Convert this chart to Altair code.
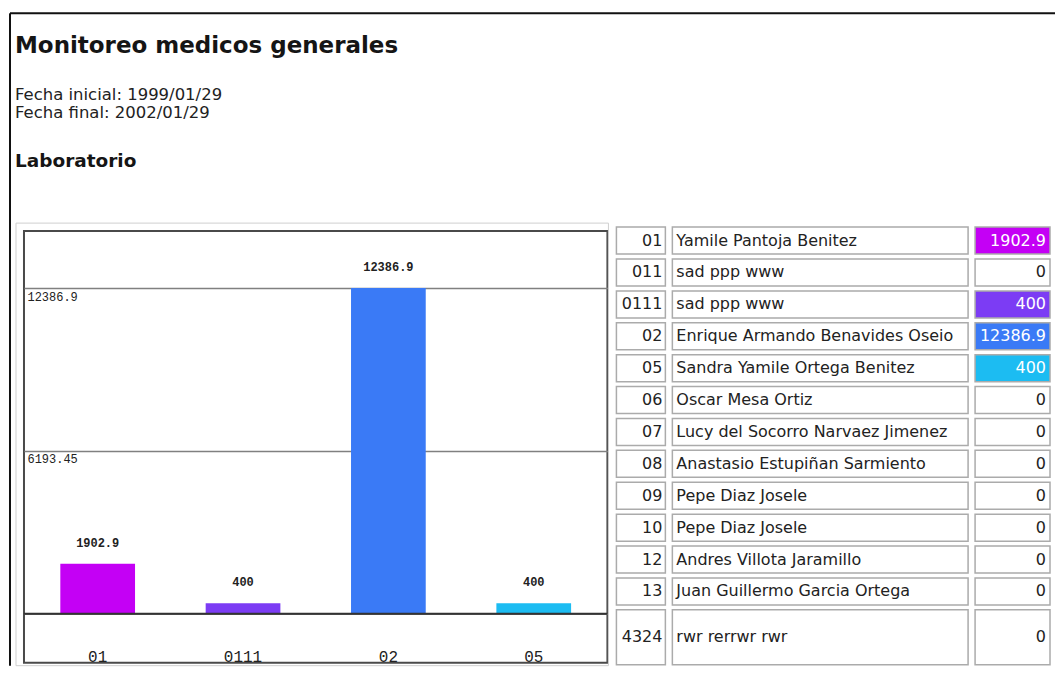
import altair as alt
import pandas as pd

# ---------------- data ----------------
title_text = "Monitoreo medicos generales"
date_lines = ["Fecha inicial: 1999/01/29", "Fecha final: 2002/01/29"]
section_text = "Laboratorio"

codes = ["01", "011", "0111", "02", "05", "06", "07", "08", "09", "10", "12", "13", "4324"]
names = [
    "Yamile Pantoja Benitez",
    "sad ppp www",
    "sad ppp www",
    "Enrique Armando Benavides Oseio",
    "Sandra Yamile Ortega Benitez",
    "Oscar Mesa Ortiz",
    "Lucy del Socorro Narvaez Jimenez",
    "Anastasio Estupiñan Sarmiento",
    "Pepe Diaz Josele",
    "Pepe Diaz Josele",
    "Andres Villota Jaramillo",
    "Juan Guillermo Garcia Ortega",
    "rwr rerrwr rwr",
]
values = [1902.9, 0, 400, 12386.9, 400, 0, 0, 0, 0, 0, 0, 0, 0]
row_weights = [1, 1, 1, 1, 1, 1, 1, 1, 1, 1, 1, 1, 1.874]

bar_codes = ["01", "0111", "02", "05"]
bar_colors = ["#c400f5", "#7c3cf4", "#3a7af6", "#1cbcf2"]
y_ticks = [0, 6193.45, 12386.9]


def fmt(v):
    return str(int(v)) if float(v).is_integer() else str(v)


# ---------------- tables ----------------
row_gap = 0.154
starts = []
acc = 0.0
for w in row_weights:
    starts.append(acc)
    acc += w
color_map = dict(zip(bar_codes, bar_colors))
tdf = pd.DataFrame({
    "code": codes,
    "name": names,
    "value": values,
    "label": [fmt(v) for v in values],
    "y0": starts,
    "y1": [s + w - row_gap for s, w in zip(starts, row_weights)],
})
tdf["ym"] = (tdf["y0"] + tdf["y1"]) / 2
tdf["vfill"] = [color_map.get(c, "#ffffff") if v > 0 else "#ffffff" for c, v in zip(codes, values)]
tdf["vtext"] = ["#ffffff" if v > 0 else "#222222" for v in values]

bar_df = tdf[tdf["value"] > 0].copy()

BW, BH = 584, 432

# ---------------- header (same x frame as the bar panel) ----------------
HH = 203
OVERLAP = 5
FX = -14  # outer frame line, relative to the plot box
hdr_base = alt.Chart(pd.DataFrame({"t": [title_text], "d": ["\n".join(date_lines)], "s": [section_text]}))
hdr = alt.layer(
    hdr_base.mark_rule(color="#111", strokeWidth=2).encode(x=alt.value(FX), x2=alt.value(1032), y=alt.value(0)),
    hdr_base.mark_rule(color="#111", strokeWidth=2).encode(x=alt.value(FX), y=alt.value(0), y2=alt.value(HH + OVERLAP)),
    hdr_base.mark_text(align="left", baseline="alphabetic", font="DejaVu Sans", fontWeight="bold",
                       fontSize=23, color="#151515").encode(x=alt.value(FX + 5), y=alt.value(40), text="t:N"),
    hdr_base.mark_text(align="left", baseline="alphabetic", font="DejaVu Sans", fontSize=16.5,
                       lineBreak="\n", lineHeight=17.5, color="#222").encode(x=alt.value(FX + 5), y=alt.value(87), text="d:N"),
    hdr_base.mark_text(align="left", baseline="alphabetic", font="DejaVu Sans", fontWeight="bold",
                       fontSize=18.5, color="#151515").encode(x=alt.value(FX + 5), y=alt.value(154), text="s:N"),
).properties(width=BW, height=HH)

# ---------------- bar chart ----------------
ydom = [-1862, 14553]
xenc = alt.X("code:N", sort=bar_codes,
             scale=alt.Scale(domain=bar_codes, paddingInner=0.486, paddingOuter=0.25),
             axis=alt.Axis(title=None, domain=False, ticks=False, labelAngle=0,
                           labelFont="Liberation Mono", labelFontSize=16, labelColor="#222",
                           labelBaseline="middle", labelPadding=-6))
yscale = alt.Scale(domain=ydom, nice=False, zero=False)
yenc = alt.Y("value:Q", scale=yscale,
             axis=alt.Axis(values=y_ticks, title=None, domain=False, ticks=False, grid=True,
                           gridColor="#808080", gridWidth=1.5, labelAlign="left", labelBaseline="top",
                           labelPadding=-3, labelOffset=3, labelFont="Liberation Mono", labelFontSize=12,
                           labelColor="#222", labelExpr="datum.value == 0 ? '' : toString(datum.value)"))

one = alt.Chart(pd.DataFrame({"v": [0]}))
bars = alt.Chart(bar_df).mark_bar().encode(
    x=xenc, y=yenc,
    color=alt.Color("code:N", scale=alt.Scale(domain=bar_codes, range=bar_colors), legend=None),
)
bar_text = alt.Chart(bar_df).mark_text(baseline="middle", dy=-21, font="Liberation Mono", fontSize=12,
                                       fontWeight="bold", color="#222").encode(
    x=alt.X("code:N", sort=bar_codes), y=alt.Y("value:Q"), text="label:N")
base_rule = one.mark_rule(color="#333", strokeWidth=2).encode(y=alt.Y("v:Q"))
panel = one.mark_rect(fillOpacity=0, stroke="#cfcfcf", strokeWidth=1).encode(
    x=alt.value(-8), x2=alt.value(BW + 1), y=alt.value(-8), y2=alt.value(BH + 3))
frame = one.mark_rule(color="#111", strokeWidth=2).encode(
    x=alt.value(FX), y=alt.value(-12), y2=alt.value(BH + 3))

bar_chart = alt.layer(panel, frame, bars, bar_text, base_rule).properties(
    width=BW, height=BH, view=alt.ViewBackground(stroke="#4a4a4a", strokeWidth=2))

# ---------------- table columns ----------------
TH = 434
tscale = alt.Scale(domain=[0.125, 13.72], reverse=True, nice=False, zero=False)


def column(width, field, align, xpos, fill=None, tcolor=None):
    cell_fill = alt.Fill(fill, scale=None) if fill else alt.value("#ffffff")
    text_color = alt.Color(tcolor, scale=None) if tcolor else alt.value("#222222")
    cells = alt.Chart(tdf).mark_rect(stroke="#ababab", strokeWidth=1.5).encode(
        x=alt.value(0), x2=alt.value(width),
        y=alt.Y("y0:Q", scale=tscale, axis=None), y2="y1:Q", fill=cell_fill)
    txt = alt.Chart(tdf).mark_text(align=align, baseline="middle", font="DejaVu Sans", fontSize=16).encode(
        x=alt.value(xpos), y=alt.Y("ym:Q", scale=tscale, axis=None), text=f"{field}:N", color=text_color)
    return alt.layer(cells, txt).properties(width=width, height=TH)


col_code = column(49, "code", "right", 46)
col_name = column(296, "name", "left", 4)
col_val = column(75, "label", "right", 71, fill="vfill:N", tcolor="vtext:N")

body = alt.hconcat(bar_chart, col_code, col_name, col_val, spacing=5)

chart = alt.concat(hdr, body, columns=1, spacing=-OVERLAP, align="none").properties(
    padding={"left": 0, "top": 4, "right": 0, "bottom": 0}, background="white"
).configure_view(strokeWidth=0)

chart.save("out.html", embed_options={"renderer": "svg", "actions": False})
